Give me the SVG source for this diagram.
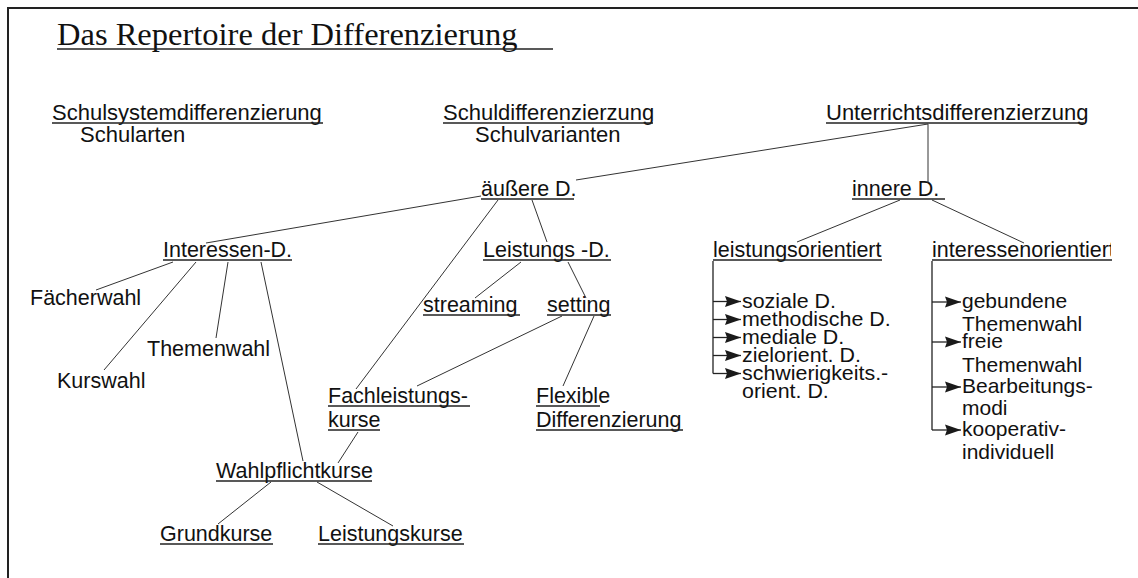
<svg xmlns="http://www.w3.org/2000/svg" width="1138" height="578" viewBox="0 0 1138 578">
<style>
.t{font-family:"Liberation Sans",Arial,sans-serif;font-size:21.5px;fill:#111}
.top{font-size:22px}
.l1{font-size:20px}
.l2{font-size:21px}
.title{font-family:"Liberation Serif","Times New Roman",serif;font-size:32.5px;fill:#111}
.u{stroke:#222;stroke-width:1.4}
.c{stroke:#333;stroke-width:1;fill:none}
.a{stroke:#222;stroke-width:1.3;fill:none}
.frame{stroke:#222;stroke-width:2;fill:none}
</style>
<defs>
<marker id="ah" markerWidth="17" markerHeight="12" refX="16" refY="6" orient="auto" markerUnits="userSpaceOnUse">
<path d="M0,0.5 L16,6 L0,11.5 L2,6 Z" fill="#1a1a1a"/>
</marker>
<clipPath id="clipR"><rect x="0" y="0" width="1111" height="578"/></clipPath>
</defs>
<rect width="1138" height="578" fill="#fff"/>
<path class="frame" d="M8,578 V8 H1138"/>
<g id="title">
<text class="title" x="57" y="45">Das Repertoire der Differenzierung</text>
<line class="u" x1="57" y1="49" x2="553" y2="49"/>
</g>
<g id="n-schulsystem">
<text class="t top" x="52" y="120">Schulsystemdifferenzierung</text>
<line class="u" x1="52" y1="123" x2="323" y2="123"/>
<text class="t top" x="80" y="142">Schularten</text>
</g>
<g id="n-schul">
<text class="t top" x="443" y="120">Schuldifferenzierzung</text>
<line class="u" x1="443" y1="123" x2="653" y2="123"/>
<text class="t top" x="475" y="142">Schulvarianten</text>
</g>
<g id="n-unterricht">
<text class="t top" x="826" y="120">Unterrichtsdifferenzierzung</text>
<line class="u" x1="826" y1="123" x2="1084" y2="123"/>
</g>
<g id="n-aeussere">
<text class="t" x="481" y="196">äußere D.</text>
<line class="u" x1="481" y1="199" x2="574" y2="199"/>
</g>
<g id="n-innere">
<text class="t" x="852" y="196">innere D.</text>
<line class="u" x1="852" y1="199" x2="945" y2="199"/>
</g>
<g id="n-interessen">
<text class="t" x="163" y="257">Interessen-D.</text>
<line class="u" x1="163" y1="260" x2="292" y2="260"/>
</g>
<g id="n-leistungs">
<text class="t" x="483" y="257">Leistungs -D.</text>
<line class="u" x1="483" y1="260" x2="611" y2="260"/>
</g>
<g id="n-leistungsorientiert">
<text class="t" x="713" y="257">leistungsorientiert</text>
<line class="u" x1="713" y1="260" x2="882" y2="260"/>
</g>
<g id="n-interessenorientiert">
<text class="t" x="932" y="257" clip-path="url(#clipR)">interessenorientiert</text>
<line class="u" x1="932" y1="260" x2="1112" y2="260"/>
</g>
<g id="n-faecherwahl"><text class="t" x="30" y="305">Fächerwahl</text></g>
<g id="n-themenwahl"><text class="t" x="147" y="356">Themenwahl</text></g>
<g id="n-kurswahl"><text class="t" x="57" y="388">Kurswahl</text></g>
<g id="n-streaming">
<text class="t" x="423" y="312">streaming</text>
<line class="u" x1="423" y1="315" x2="520" y2="315"/>
</g>
<g id="n-setting">
<text class="t" x="547" y="312">setting</text>
<line class="u" x1="547" y1="315" x2="611" y2="315"/>
</g>
<g id="n-fachleistung">
<text class="t" x="328" y="403">Fachleistungs-</text>
<line class="u" x1="328" y1="406" x2="470" y2="406"/>
<text class="t" x="328" y="427">kurse</text>
<line class="u" x1="328" y1="430" x2="380" y2="430"/>
</g>
<g id="n-flexible">
<text class="t" x="536" y="403">Flexible</text>
<line class="u" x1="536" y1="406" x2="600" y2="406"/>
<text class="t" x="536" y="427">Differenzierung</text>
<line class="u" x1="536" y1="430" x2="683" y2="430"/>
</g>
<g id="n-wahlpflicht">
<text class="t" x="216" y="478">Wahlpflichtkurse</text>
<line class="u" x1="216" y1="481" x2="372" y2="481"/>
</g>
<g id="n-grundkurse">
<text class="t" x="160" y="541">Grundkurse</text>
<line class="u" x1="160" y1="544" x2="273" y2="544"/>
</g>
<g id="n-leistungskurse">
<text class="t" x="318" y="541">Leistungskurse</text>
<line class="u" x1="318" y1="544" x2="464" y2="544"/>
</g>
<g id="list-leistung" transform="matrix(1.07 0 0 1 -51.94 0)">
<text class="t l1" x="742" y="308">soziale D.</text>
<text class="t l1" x="742" y="326">methodische D.</text>
<text class="t l1" x="742" y="344">mediale D.</text>
<text class="t l1" x="742" y="362">zielorient. D.</text>
<text class="t l1" x="742" y="380">schwierigkeits.-</text>
<text class="t l1" x="742" y="398">orient. D.</text>
</g>
<g id="list-interesse">
<text class="t l2" x="962" y="308">gebundene</text>
<text class="t l2" x="962" y="331">Themenwahl</text>
<text class="t l2" x="962" y="348">freie</text>
<text class="t l2" x="962" y="372">Themenwahl</text>
<text class="t l2" x="962" y="393">Bearbeitungs-</text>
<text class="t l2" x="962" y="415">modi</text>
<text class="t l2" x="962" y="436">kooperativ-</text>
<text class="t l2" x="962" y="459">individuell</text>
</g>
<g id="connectors">
<line class="c" x1="928" y1="124" x2="576" y2="180"/>
<line class="c" x1="928" y1="124" x2="928" y2="183"/>
<line class="c" x1="900" y1="200" x2="797" y2="242"/>
<line class="c" x1="932" y1="200" x2="1024" y2="243"/>
<line class="c" x1="481" y1="196" x2="206" y2="243"/>
<line class="c" x1="498" y1="200" x2="356" y2="389"/>
<line class="c" x1="532" y1="200" x2="547" y2="242"/>
<line class="c" x1="521" y1="262" x2="475" y2="298"/>
<line class="c" x1="568" y1="262" x2="586" y2="298"/>
<line class="c" x1="562" y1="316" x2="417" y2="386"/>
<line class="c" x1="594" y1="316" x2="563" y2="386"/>
<line class="c" x1="173" y1="262" x2="96" y2="290"/>
<line class="c" x1="196" y1="262" x2="104" y2="370"/>
<line class="c" x1="228" y1="262" x2="216" y2="338"/>
<line class="c" x1="261" y1="262" x2="303" y2="461"/>
<line class="c" x1="358" y1="432" x2="338" y2="463"/>
<line class="c" x1="271" y1="482" x2="218" y2="524"/>
<line class="c" x1="317" y1="482" x2="393" y2="526"/>
<path class="a" d="M713,261 V373.5"/>
<line class="a" x1="713" y1="301.5" x2="741" y2="301.5" marker-end="url(#ah)"/>
<line class="a" x1="713" y1="319.5" x2="741" y2="319.5" marker-end="url(#ah)"/>
<line class="a" x1="713" y1="337.5" x2="741" y2="337.5" marker-end="url(#ah)"/>
<line class="a" x1="713" y1="355.5" x2="741" y2="355.5" marker-end="url(#ah)"/>
<line class="a" x1="713" y1="373.5" x2="741" y2="373.5" marker-end="url(#ah)"/>
<path class="a" d="M932,261 V430"/>
<line class="a" x1="932" y1="302" x2="961" y2="302" marker-end="url(#ah)"/>
<line class="a" x1="932" y1="342" x2="961" y2="342" marker-end="url(#ah)"/>
<line class="a" x1="932" y1="387" x2="961" y2="387" marker-end="url(#ah)"/>
<line class="a" x1="932" y1="430" x2="961" y2="430" marker-end="url(#ah)"/>
</g>
</svg>
